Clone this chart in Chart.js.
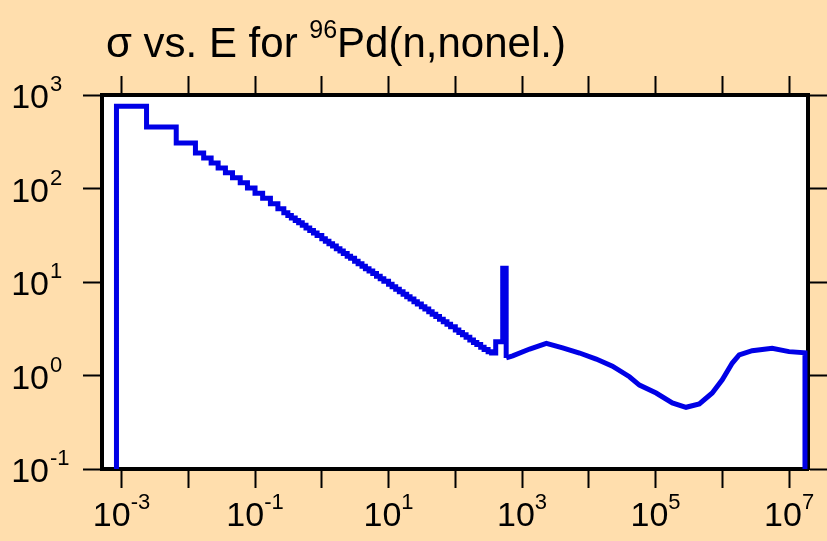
<!DOCTYPE html>
<html>
<head>
<meta charset="utf-8">
<script src="https://cdn.jsdelivr.net/npm/chart.js@4"></script>
<style>
  html, body { margin: 0; padding: 0; background: #ffdead; }
  canvas { display: block; }
</style>
</head>
<body>
<canvas id="xs-chart" width="827" height="541"></canvas>
<script>
// group-wise part (thermal / 1/v region + resonance spike), drawn as steps
const energyGroups = [8.4e-4, 8.4e-4, 2.37e-3, 6.6e-3, 0.0128, 0.017, 0.022, 0.028, 0.036, 0.046,
  0.06, 0.077, 0.1, 0.13, 0.17, 0.22, 0.27, 0.31, 0.35, 0.4, 0.45, 0.51, 0.58, 0.66, 0.75, 0.85,
  1, 1.13, 1.28, 1.45, 1.65, 1.87, 2.1, 2.4, 2.7, 3.1, 3.5, 4, 4.5, 5.1, 5.8, 6.6, 7.5, 8.5,
  10, 11.3, 12.8, 14.5, 16.5, 18.7, 21, 24, 27, 31, 35, 40, 45, 51, 58, 66, 75, 85,
  100, 113, 128, 145, 165, 187, 210, 240, 270, 310, 350, 403, 513, 578, 578];
const sigmaGroups = [0.1, 760, 455, 307, 240, 212, 187, 166, 147, 130,
  115, 101, 89, 78.5, 68.9, 60.8, 55, 51.4, 48.5, 45.4, 42.9, 40.4, 37.9, 35.5, 33.4, 31.4,
  29, 27.3, 25.7, 24.2, 22.7, 21.4, 20.2, 18.9, 17.9, 16.7, 15.7, 14.7, 13.9, 13.1, 12.3, 11.5, 10.8, 10.2,
  9.44, 8.89, 8.37, 7.87, 7.39, 6.96, 6.57, 6.15, 5.81, 5.44, 5.13, 4.8, 4.53, 4.27, 4, 3.76, 3.53, 3.32,
  3.07, 2.89, 2.72, 2.56, 2.4, 2.26, 2.14, 2, 1.9, 1.8, 1.74, 2.3, 14, 14, 1.54];

// fast region, smooth
const energyFast = [578, 723, 1300, 2310, 4050, 7260, 12900, 22600, 40600, 57300, 1.02e5, 1.78e5,
  2.86e5, 4.52e5, 7.06e5, 9.97e5, 1.41e6, 1.79e6, 2.8e6, 5.57e6, 9.98e6, 1.73e7, 1.73e7];
const sigmaFast = [1.54, 1.62, 1.92, 2.21, 1.97, 1.74, 1.5, 1.26, 0.97, 0.79, 0.65, 0.51,
  0.457, 0.496, 0.65, 0.9, 1.36, 1.66, 1.84, 1.95, 1.8, 1.75, 0.1];

const xExpTicks = [-3, -2, -1, 0, 1, 2, 3, 4, 5, 6, 7];
const xExpLabels = [-3, -1, 1, 3, 5, 7];
const yExpTicks = [-1, 0, 1, 2, 3];

const lineColor = '#0000e6';
const font = '"Liberation Sans", Arial, sans-serif';

function toPoints(xs, ys) {
  return xs.map((x, i) => ({ x: x, y: ys[i] }));
}

function decades(exps) {
  return function (axis) {
    axis.ticks = exps.map(e => ({ value: Math.pow(10, e) }));
  };
}

function axisOpts(pos, exps, min, max, len) {
  return {
    type: 'logarithmic',
    position: pos,
    min: min,
    max: max,
    afterBuildTicks: decades(exps),
    ticks: { display: false },
    grid: { drawOnChartArea: false, drawTicks: true, tickLength: len, tickWidth: 2, tickColor: '#000' },
    border: { display: true, width: 4, color: '#000' }
  };
}

const xMin = 5.1e-4, xMax = 1.92e7;

const backdrop = {
  id: 'backdrop',
  beforeDraw(chart) {
    const { ctx, chartArea: a } = chart;
    ctx.save();
    ctx.fillStyle = '#ffdead';
    ctx.fillRect(0, 0, chart.width, chart.height);
    ctx.fillStyle = '#fff';
    ctx.fillRect(a.left, a.top, a.right - a.left, a.bottom - a.top);
    ctx.restore();
  }
};

// power-of-ten labels with superscripts + title
const labels = {
  id: 'labels',
  afterDraw(chart) {
    const ctx = chart.ctx;
    const sx = chart.scales.x, sy = chart.scales.y;
    ctx.save();
    ctx.fillStyle = '#000';
    ctx.textBaseline = 'alphabetic';
    const big = '34px ' + font, small = '22px ' + font;

    xExpLabels.forEach(e => {
      const px = sx.getPixelForValue(Math.pow(10, e));
      ctx.font = big;
      const w1 = ctx.measureText('10').width;
      ctx.font = small;
      const w2 = ctx.measureText(String(e)).width;
      const x0 = px - (w1 + w2) / 2;
      ctx.font = big;
      ctx.textAlign = 'left';
      ctx.fillText('10', x0, 526);
      ctx.font = small;
      ctx.fillText(String(e), x0 + w1, 509);
    });

    yExpTicks.forEach(e => {
      const py = sy.getPixelForValue(Math.pow(10, e));
      ctx.font = big;
      ctx.textAlign = 'right';
      ctx.fillText('10', 49, py + 13);
      ctx.font = small;
      ctx.textAlign = 'left';
      ctx.fillText(String(e), 50, py - 4);
    });

    // title
    ctx.textAlign = 'left';
    let x = 106;
    ctx.font = '42px ' + font;
    ctx.fillText('\u03c3 vs. E for ', x, 57);
    x += ctx.measureText('\u03c3 vs. E for ').width;
    ctx.font = '25px ' + font;
    ctx.fillText('96', x, 38);
    x += ctx.measureText('96').width;
    ctx.font = '42px ' + font;
    ctx.fillText('Pd(n,nonel.)', x, 57);
    ctx.restore();
  }
};

const ctx = document.getElementById('xs-chart').getContext('2d');

const xsChart = new Chart(ctx, {
  type: 'line',
  data: {
    datasets: [{
      label: 'groups',
      data: toPoints(energyGroups, sigmaGroups),
      borderColor: lineColor,
      borderWidth: 5,
      stepped: 'before',
      pointRadius: 0,
      fill: false
    }, {
      label: 'fast',
      data: toPoints(energyFast, sigmaFast),
      borderColor: lineColor,
      borderWidth: 5,
      tension: 0,
      pointRadius: 0,
      fill: false
    }]
  },
  options: {
    responsive: false,
    animation: false,
    devicePixelRatio: 1,
    layout: { padding: { left: 83, right: 0, top: 76, bottom: 53 } },
    plugins: {
      legend: { display: false },
      tooltip: { enabled: false },
      title: { display: false }
    },
    scales: {
      x: axisOpts('bottom', xExpTicks, xMin, xMax, 19),
      x2: axisOpts('top', xExpTicks, xMin, xMax, 19),
      y: axisOpts('left', yExpTicks, 0.1, 1000, 19),
      y2: axisOpts('right', yExpTicks, 0.1, 1000, 19)
    }
  },
  plugins: [backdrop, labels]
});
</script>
</body>
</html>
